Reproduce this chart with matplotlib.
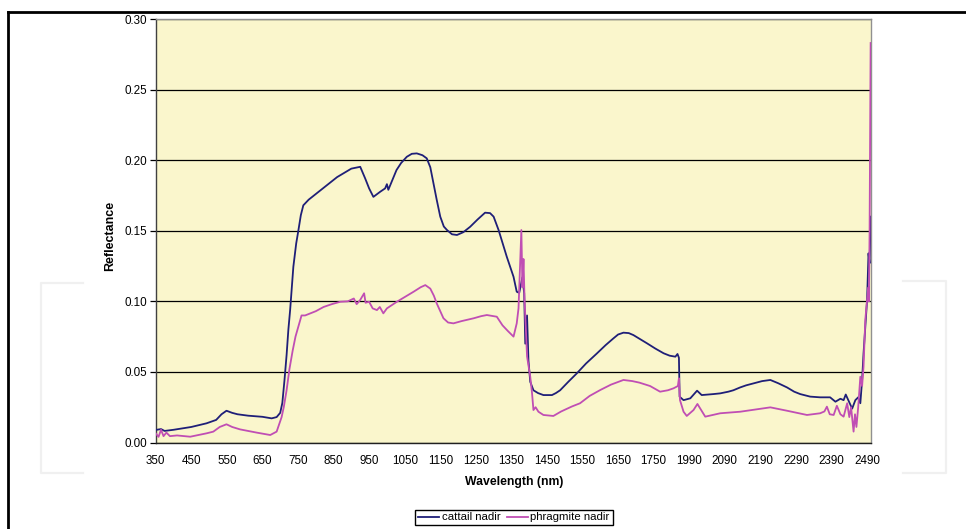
import matplotlib
matplotlib.use("Agg")
import matplotlib.pyplot as plt
from matplotlib.lines import Line2D
import numpy as np

plt.rcParams['font.family'] = ['Liberation Sans', 'DejaVu Sans']

# spectra (wavelength in nm, reflectance)
cattail_wl = [350, 365, 375, 400, 450, 493, 520, 535, 549, 565, 580, 610, 650, 676, 690, 700,
              706, 712, 718, 723, 728, 737, 745, 751, 758, 765, 780, 800, 830, 860, 880, 900,
              925, 939, 950, 962, 981, 995, 1000, 1004, 1027, 1040, 1056, 1070, 1084, 1100,
              1112, 1122, 1131, 1140, 1150, 1160, 1169, 1183, 1197, 1215, 1234, 1255, 1276,
              1290, 1300, 1314, 1337, 1356, 1365, 1372, 1381, 1386, 1389, 1394, 1398, 1403,
              1412, 1425, 1440, 1464, 1475, 1487, 1510, 1534, 1560, 1590, 1615, 1637, 1650,
              1665, 1680, 1693, 1710, 1731, 1755, 1778, 1795, 1811, 1817, 1821, 1823, 1834,
              1993, 2012, 2025, 2058, 2077, 2100, 2114, 2133, 2150, 2171, 2195, 2218, 2240,
              2265, 2285, 2302, 2330, 2358, 2386, 2401, 2415, 2424, 2430, 2448, 2457, 2465,
              2471, 2476, 2480, 2490, 2494, 2497, 2500]
cattail_r = [0.0089, 0.0095, 0.0082, 0.0090, 0.0110, 0.0136, 0.0160, 0.0200, 0.0225, 0.0210,
             0.0200, 0.0190, 0.0182, 0.0171, 0.0180, 0.0210, 0.0280, 0.0440, 0.0620, 0.080,
             0.094, 0.1245, 0.141, 0.150, 0.161, 0.168, 0.172, 0.176, 0.182, 0.188, 0.191,
             0.194, 0.1953, 0.187, 0.180, 0.174, 0.1776, 0.180, 0.183, 0.179, 0.193, 0.198,
             0.2024, 0.2045, 0.2048, 0.2035, 0.2013, 0.195, 0.1836, 0.172, 0.160, 0.153,
             0.1505, 0.1475, 0.147, 0.149, 0.1528, 0.158, 0.1628, 0.1625, 0.160, 0.1505,
             0.1316, 0.1174, 0.1068, 0.106, 0.117, 0.1057, 0.070, 0.090, 0.058, 0.043, 0.037,
             0.035, 0.0336, 0.0336, 0.035, 0.037, 0.043, 0.049, 0.056, 0.063, 0.069, 0.0738,
             0.0765, 0.0778, 0.0775, 0.0761, 0.0735, 0.0703, 0.0665, 0.0632, 0.0615, 0.0608,
             0.0627, 0.0600, 0.0324, 0.030, 0.0313, 0.0367, 0.0336, 0.0343, 0.0348, 0.036,
             0.037, 0.039, 0.0405, 0.0419, 0.0435, 0.0443, 0.042, 0.039, 0.036, 0.0343,
             0.0325, 0.032, 0.032, 0.0289, 0.031, 0.030, 0.034, 0.024, 0.030, 0.032, 0.0278,
             0.0443, 0.063, 0.101, 0.134, 0.127, 0.160]

phrag_wl = [350, 358, 365, 372, 380, 390, 410, 447, 493, 512, 530, 549, 565, 587, 634, 672,
            690, 704, 710, 718, 726, 735, 743, 751, 760, 770, 800, 822, 845, 869, 890, 907,
            915, 925, 936, 940, 950, 960, 972, 980, 990, 1000, 1028, 1050, 1075, 1095, 1108,
            1122, 1132, 1140, 1150, 1159, 1172, 1187, 1210, 1244, 1265, 1281, 1300, 1309,
            1325, 1340, 1356, 1365, 1370, 1378, 1381, 1384, 1387, 1394, 1403, 1408, 1412,
            1418, 1426, 1440, 1468, 1490, 1520, 1543, 1570, 1600, 1630, 1665, 1690, 1710,
            1740, 1768, 1790, 1806, 1818, 1821, 1824, 1834, 1843, 2002, 2013, 2035, 2077,
            2133, 2218, 2265, 2321, 2358, 2370, 2377, 2385, 2396, 2405, 2415, 2424, 2434,
            2440, 2445, 2452, 2456, 2460, 2465, 2471, 2476, 2480, 2485, 2490, 2494, 2495,
            2497, 2499, 2500]
phrag_r = [0.0065, 0.004, 0.009, 0.0045, 0.0070, 0.0045, 0.0050, 0.0041, 0.0065, 0.0077,
           0.0110, 0.0129, 0.0110, 0.0093, 0.0070, 0.0053, 0.0077, 0.018, 0.025, 0.037,
           0.052, 0.065, 0.075, 0.082, 0.090, 0.090, 0.093, 0.096, 0.098, 0.0997, 0.100,
           0.102, 0.098, 0.101, 0.1057, 0.099, 0.0997, 0.095, 0.0938, 0.096, 0.0915, 0.095,
           0.0997, 0.103, 0.1068, 0.110, 0.1115, 0.109, 0.104, 0.0986, 0.093, 0.088, 0.085,
           0.0844, 0.086, 0.088, 0.0895, 0.0903, 0.0895, 0.0891, 0.083, 0.079, 0.075, 0.0844,
           0.095, 0.1505, 0.110, 0.130, 0.101, 0.061, 0.0466, 0.035, 0.023, 0.025, 0.0218,
           0.0195, 0.0188, 0.022, 0.0255, 0.0278, 0.033, 0.0372, 0.041, 0.0443, 0.0435,
           0.0424, 0.040, 0.036, 0.037, 0.0384, 0.040, 0.0455, 0.030, 0.0218, 0.0188, 0.023,
           0.0273, 0.0183, 0.0207, 0.0218, 0.0249, 0.0225, 0.0195, 0.0207, 0.022, 0.0254,
           0.020, 0.0195, 0.026, 0.020, 0.0183, 0.0278, 0.018, 0.025, 0.0077, 0.020, 0.011,
           0.025, 0.0466, 0.040, 0.0537, 0.087, 0.101, 0.110, 0.100, 0.148, 0.243, 0.283]

tick_wl = [350, 450, 550, 650, 750, 850, 950, 1050, 1150, 1250, 1350, 1450, 1550, 1650,
           1750, 1990, 2090, 2190, 2290, 2390, 2490]
y_ticks = [0.00, 0.05, 0.10, 0.15, 0.20, 0.25, 0.30]


def to_pos(wl):
    # category axis: 1850-1989 nm band was dropped from the data
    wl = np.asarray(wl, dtype=float)
    return np.where(wl < 1850, wl - 350, wl - 490)


W, H = 966, 529
fig = plt.figure(figsize=(W / 100, H / 100), dpi=100)
ax = fig.add_axes([155.7 / W, 1 - 442.5 / H, (871 - 155.7) / W, (442.5 - 19) / H])
ax.set_facecolor('#FAF6CC')

ax.plot(to_pos(cattail_wl), cattail_r, color='#1F1F78', lw=1.3, label='cattail nadir', zorder=3)
ax.plot(to_pos(phrag_wl), phrag_r, color='#C04EB4', lw=1.3, label='phragmite nadir', zorder=4)

ax.set_xlim(0, 2011)
ax.set_ylim(0, 0.30)
ax.set_yticks(y_ticks)
ax.set_yticklabels([f"{v:.2f}" for v in y_ticks])
ax.yaxis.grid(True, color='black', lw=0.9)
ax.set_axisbelow(True)

pos = to_pos(tick_wl)
ax.set_xticks(pos)
ax.set_xticklabels([str(t) for t in tick_wl])
ax.set_xticks(pos[::2], minor=True)
ax.tick_params(axis='x', which='major', length=0, pad=9, labelsize=8.4)
ax.tick_params(axis='x', which='minor', length=4.5, width=0.9, color='black')
ax.tick_params(axis='y', length=4, width=0.9, labelsize=8.4, pad=2)

ax.spines['left'].set_color('#404040')
ax.spines['bottom'].set_color('#202020')
ax.spines['top'].set_color('#909090')
ax.spines['right'].set_color('#909090')
for s in ax.spines.values():
    s.set_linewidth(1.0)

fig.text(110 / W, 1 - 235.5 / H, 'Reflectance', rotation=90, ha='center', va='center',
         fontsize=9, fontweight='bold')
fig.text(514 / W, 1 - 482 / H, 'Wavelength (nm)', ha='center', va='center',
         fontsize=8.8, fontweight='bold')

leg = fig.legend(loc='center', bbox_to_anchor=(514 / W, 1 - 517.5 / H), ncol=2, fontsize=8.2,
                 frameon=True, fancybox=False, edgecolor='black', framealpha=1,
                 handlelength=1.85, handletextpad=0.25, columnspacing=0.5, borderpad=0.25,
                 borderaxespad=0)
leg.get_frame().set_linewidth(1.0)


def fx(x):
    return x / W


def fy(y):
    return 1 - y / H


# faint watermark brackets
wm = '#F0F0F0'
fig.add_artist(Line2D([fx(83), fx(40.7), fx(40.7), fx(83)], [fy(282.7), fy(282.7), fy(473.3), fy(473.3)],
                      color=wm, lw=1.6, zorder=0))
fig.add_artist(Line2D([fx(903), fx(945.7), fx(945.7), fx(903)], [fy(281), fy(281), fy(473), fy(473)],
                      color=wm, lw=1.6, zorder=0))

# outer frame
fig.add_artist(Line2D([fx(8.3), fx(966)], [fy(12.3), fy(12.3)], color='black', lw=2))
fig.add_artist(Line2D([fx(8.3), fx(8.3)], [fy(12.3), fy(529)], color='black', lw=2))

fig.savefig('out.png', dpi=100)
